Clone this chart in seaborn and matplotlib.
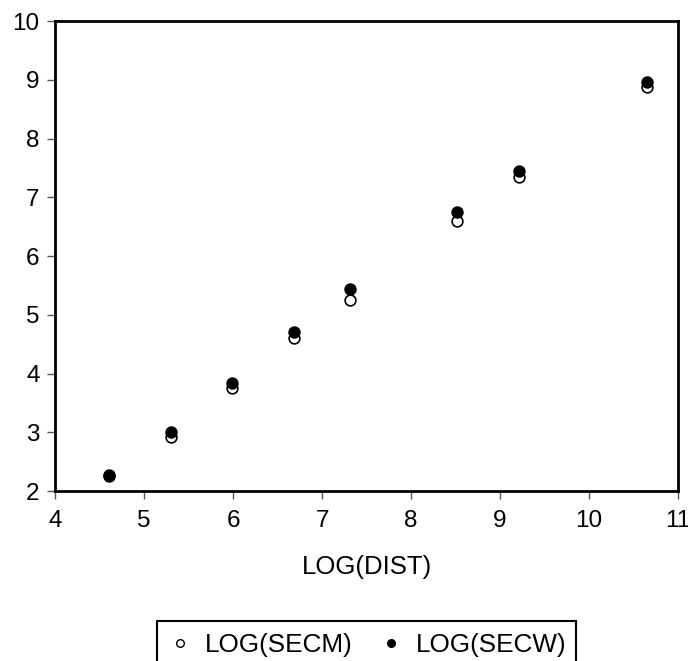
import pandas as pd
import matplotlib.pyplot as plt
import seaborn as sns
from matplotlib.lines import Line2D
from matplotlib.patches import Rectangle

log_dist = [4.61, 5.30, 5.99, 6.68, 7.31, 8.52, 9.21, 10.65]
log_secm = [2.25, 2.92, 3.75, 4.60, 5.25, 6.60, 7.35, 8.88]
log_secw = [2.28, 3.00, 3.84, 4.70, 5.43, 6.75, 7.45, 8.97]

df = pd.DataFrame({'LOG(DIST)': log_dist, 'LOG(SECM)': log_secm, 'LOG(SECW)': log_secw})

sns.set_style('white')
plt.rcParams['font.family'] = ['Liberation Sans', 'DejaVu Sans']
plt.rcParams['text.color'] = 'black'
plt.rcParams['axes.labelcolor'] = 'black'

fig = plt.figure(figsize=(6.88, 6.61), dpi=100)
ax = fig.add_axes([55/688, 1-491/661, 623/688, 470/661])

sns.scatterplot(data=df, x='LOG(DIST)', y='LOG(SECM)', ax=ax, marker='o', s=60,
                facecolor='white', edgecolor='black', linewidth=1.2, zorder=3)
sns.scatterplot(data=df, x='LOG(DIST)', y='LOG(SECW)', ax=ax, marker='o', s=60,
                color='black', edgecolor='black', linewidth=1.2, zorder=4)

ax.set_xlim(4, 11)
ax.set_ylim(2, 10)
ax.set_xticks(range(4, 12))
ax.set_yticks(range(2, 11))
ax.set_xlabel('LOG(DIST)', fontsize=18.5, labelpad=16)
ax.set_ylabel('')
ax.tick_params(axis='both', labelsize=17.5, direction='out', length=6, width=1,
               color='#555555', labelcolor='black', pad=5, left=True, bottom=True)
ax.tick_params(axis='x', pad=8)
for sp in ax.spines.values():
    sp.set_linewidth(2)
    sp.set_color('black')

# legend box runs off the bottom edge like the original
fig.add_artist(Rectangle((157/688, 1-680/661), (576-157)/688, (680-621)/661,
                         transform=fig.transFigure, facecolor='none',
                         edgecolor='black', linewidth=1.5))

handles = [
    Line2D([], [], linestyle='none', marker='o', markersize=5.5, markerfacecolor='white',
           markeredgecolor='black', markeredgewidth=1),
    Line2D([], [], linestyle='none', marker='o', markersize=5.5, markerfacecolor='black',
           markeredgecolor='black'),
]
fig.legend(handles, ['LOG(SECM)', 'LOG(SECW)'], loc='center',
           bbox_to_anchor=(368/688, 1-645/661), ncol=2, fontsize=18.8,
           frameon=False, handlelength=0.8, handletextpad=0.52,
           columnspacing=1.1, borderpad=0, borderaxespad=0)

fig.savefig('out.png', dpi=100)
